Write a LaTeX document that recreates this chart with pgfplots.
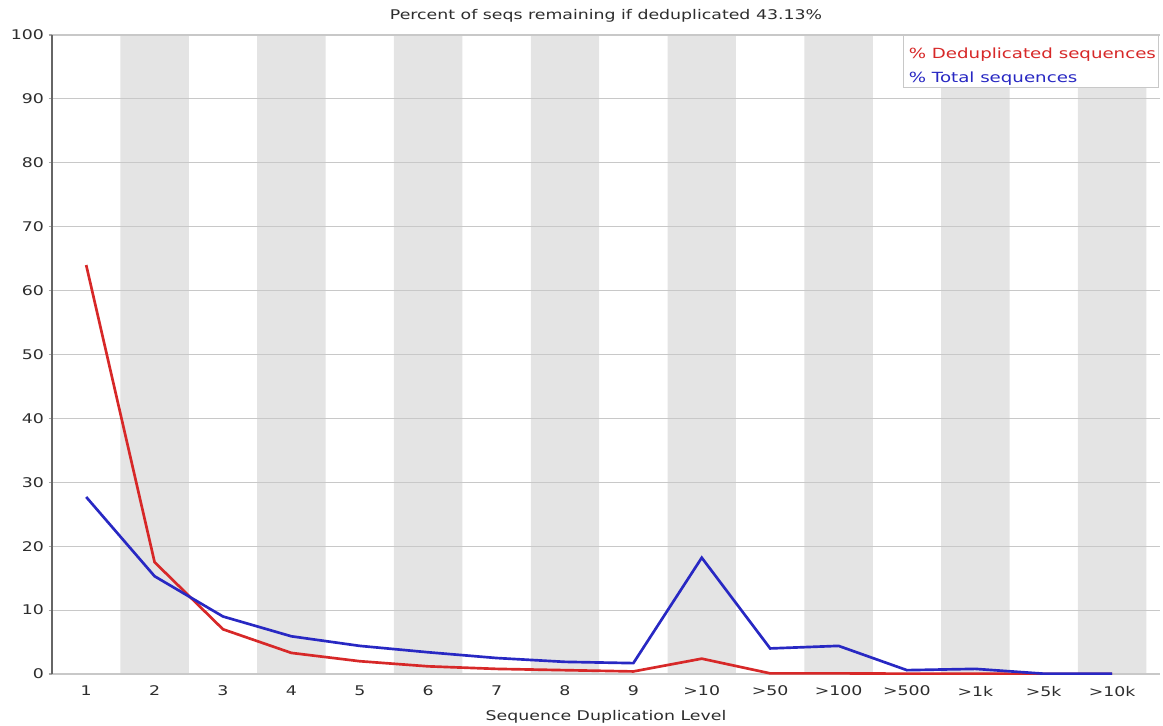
\documentclass[border=0pt]{standalone}
\usepackage{pgfplots}
\pgfplotsset{compat=1.18}
\usepackage{fontspec}
\setmainfont{DejaVu Sans}[FakeStretch=1.3]
\definecolor{dred}{RGB}{215,40,40}
\definecolor{dblue}{RGB}{40,40,195}
\definecolor{band}{RGB}{228,228,228}
\definecolor{gridc}{RGB}{200,200,200}
\definecolor{txt}{RGB}{45,45,45}
\begin{document}
\begin{tikzpicture}
\begin{axis}[
  set layers,
  at={(39pt,38.25pt)}, anchor=south west,
  scale only axis, width=831pt, height=479.25pt,
  xmin=-0.5, xmax=15.7, ymin=0, ymax=100,
  xtick={0,...,15},
  xticklabels={1,2,3,4,5,6,7,8,9,>10,>50,>100,>500,>1k,>5k,>10k},
  ytick={0,10,...,100},
  axis x line*=bottom, axis y line*=left,
  x axis line style={draw=gridc, line width=0.8pt},
  y axis line style={draw=gray!80!black, line width=1.2pt},
  tick align=outside, major tick length=2.5pt,
  xtick style={draw=none},
  ytick style={draw=gray!70, line width=0.8pt},
  ymajorgrids, grid style={draw=gridc, line width=0.8pt},
  tick label style={text=txt},
  xticklabel style={yshift=-3pt},
  /pgf/number format/assume math mode=true,
  title={Percent of seqs remaining if deduplicated 43.13\%},
  title style={text=txt},
  xlabel={Sequence Duplication Level},
  xlabel style={text=txt, yshift=-4pt},
  legend style={at={(rel axis cs:0.999,1)}, anchor=north east, draw=gridc, fill=white,
    row sep=1pt, inner xsep=2pt, inner ysep=2pt, font=\fontsize{10.5pt}{12pt}\selectfont,
    nodes={inner sep=0pt, text height=15.1pt, text depth=1.9pt},
    /tikz/every even column/.append style={column sep=0pt}},
  legend cell align=left,
  legend image code/.code={\path (0pt,0pt) (0.1pt,0.1pt);},
]
\addplot[ybar, bar width=1, fill=band, draw=none, on layer=axis background, forget plot]
  coordinates {(1,100) (3,100) (5,100) (7,100) (9,100) (11,100) (13,100) (15,100)};
\addplot[dred, line width=2pt] coordinates {
 (0,64.0) (1,17.5) (2,7.0) (3,3.3) (4,2.0) (5,1.2) (6,0.8) (7,0.6) (8,0.4)
 (9,2.4) (10,0.1) (11,0.1) (12,0.05) (13,0.05) (14,0.0) (15,0.0)};
\addlegendentry{\textcolor{dred}{\% Deduplicated sequences}}
\addplot[dblue, line width=2pt] coordinates {
 (0,27.7) (1,15.3) (2,9.0) (3,5.9) (4,4.4) (5,3.4) (6,2.5) (7,1.9) (8,1.7)
 (9,18.2) (10,4.0) (11,4.4) (12,0.6) (13,0.8) (14,0.05) (15,0.05)};
\addlegendentry{\textcolor{dblue}{\% Total sequences}}
\end{axis}
\pgfresetboundingbox
\path[use as bounding box] (0pt,0pt) rectangle (872.25pt,543.75pt);
\end{tikzpicture}
\end{document}
